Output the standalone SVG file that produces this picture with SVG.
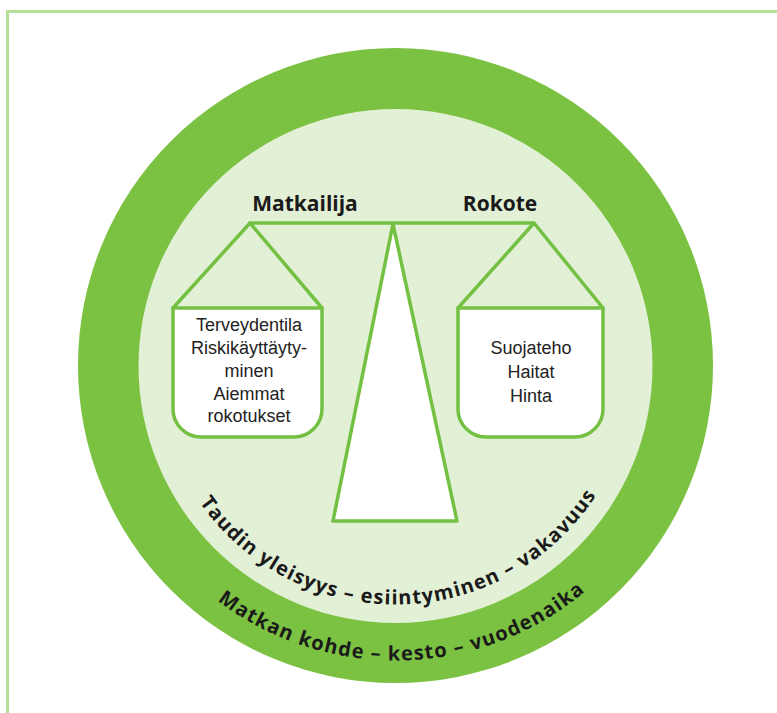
<svg xmlns="http://www.w3.org/2000/svg" width="777" height="713" viewBox="0 0 777 713">
  <style>
    .frame { fill: none; stroke: #b6df9a; stroke-width: 3; }
    .ring { fill: #7bc142; }
    .inner { fill: #e2f0d6; }
    .ln { fill: none; stroke: #74c043; stroke-width: 3.5; stroke-linejoin: round; stroke-linecap: round; }
    .pan { fill: #ffffff; stroke: #74c043; stroke-width: 3.5; stroke-linejoin: round; }
    .head { font-family: "Open Sans", "Liberation Sans", sans-serif; font-weight: bold; font-size: 21px; fill: #1a1a1a; text-anchor: middle; }
    .item { font-family: "Liberation Sans", Arial, sans-serif; font-size: 18px; fill: #222222; text-anchor: middle; }
    .arc { font-family: "Open Sans", "Liberation Sans", sans-serif; font-weight: bold; font-size: 20px; fill: #1a1a1a; letter-spacing: 1.2px; }
  </style>
  <defs>
    <path id="innerArc" d="M 156.5 365.5 A 239 239 0 0 0 634.5 365.5"/>
    <path id="outerArc" d="M 100.5 365.5 A 295 295 0 0 0 690.5 365.5"/>
  </defs>
  <rect width="777" height="713" fill="#ffffff"/>
  <rect class="frame" x="7.5" y="11.5" width="800" height="760"/>

  <g id="outer-ring">
    <circle class="ring" cx="395.5" cy="365.5" r="317.5"/>
    <text class="arc"><textPath href="#outerArc" startOffset="471" text-anchor="middle">Matkan kohde – kesto – vuodenaika</textPath></text>
  </g>
  <g id="inner-circle">
    <circle class="inner" cx="395.5" cy="366" r="257"/>
    <text class="arc"><textPath href="#innerArc" startOffset="380" text-anchor="middle">Taudin yleisyys – esiintyminen – vakavuus</textPath></text>
  </g>

  <g id="connectors">
    <line class="ln" x1="250" y1="223" x2="534" y2="223"/>
    <polyline class="ln" points="173,308 250,223 322,308"/>
    <polyline class="ln" points="458,308 534,223 603,308"/>
  </g>

  <g id="fulcrum">
    <polygon class="pan" points="393,224 333,521 457,521"/>
  </g>

  <g id="matkailija">
    <text class="head" x="305" y="211">Matkailija</text>
    <path class="pan" d="M 173 308 L 322 308 L 322 409 A 28 28 0 0 1 294 437 L 201 437 A 28 28 0 0 1 173 409 Z"/>
    <text class="item" x="249" y="331">Terveydentila</text>
    <text class="item" x="249" y="354">Riskikäyttäyty-</text>
    <text class="item" x="249" y="377">minen</text>
    <text class="item" x="249" y="400">Aiemmat</text>
    <text class="item" x="249" y="422">rokotukset</text>
  </g>

  <g id="rokote">
    <text class="head" x="500" y="211">Rokote</text>
    <path class="pan" d="M 458 308 L 603 308 L 603 409 A 28 28 0 0 1 575 437 L 486 437 A 28 28 0 0 1 458 409 Z"/>
    <text class="item" x="531" y="354">Suojateho</text>
    <text class="item" x="531" y="378">Haitat</text>
    <text class="item" x="531" y="402">Hinta</text>
  </g>
</svg>
